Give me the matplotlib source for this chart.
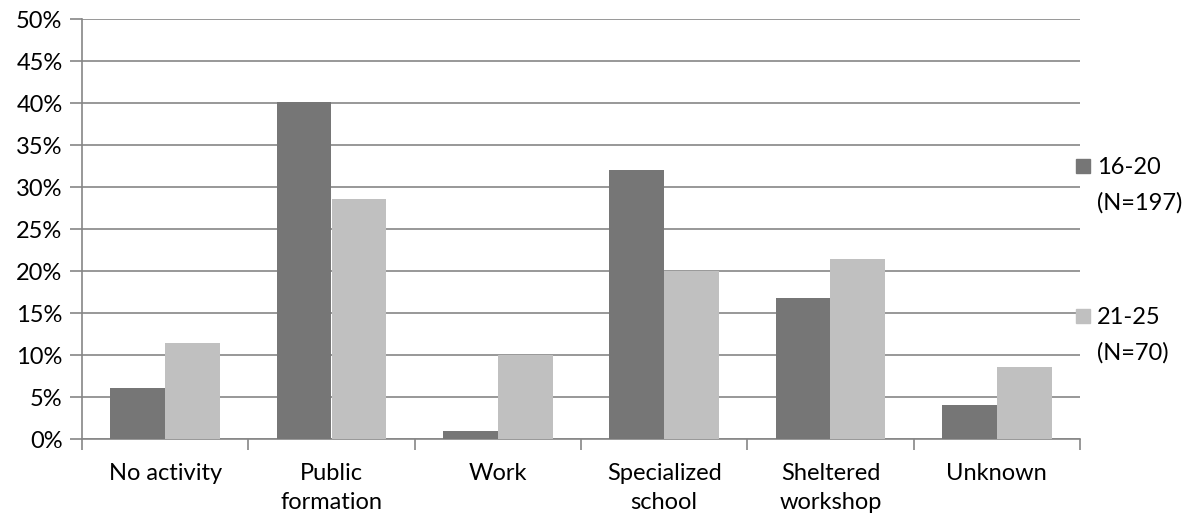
import matplotlib.pyplot as plt
import numpy as np
from matplotlib.patches import Rectangle
from matplotlib.ticker import PercentFormatter, FixedLocator

categories = ["No activity", "Public\nformation", "Work", "Specialized\nschool",
              "Sheltered\nworkshop", "Unknown"]
age_16_20 = [6.1, 40.1, 1.0, 32.0, 16.8, 4.1]
age_21_25 = [11.4, 28.6, 10.0, 20.0, 21.4, 8.6]
series_labels = [("16-20", "(N=197)"), ("21-25", "(N=70)")]

dark = "#767676"
light = "#c0c0c0"
grid = "#868686"

plt.rcParams['font.family'] = ['Lato', 'DejaVu Sans']

W, H = 1192, 521
fig = plt.figure(figsize=(W / 100, H / 100), dpi=100)
ax = fig.add_axes([82 / W, 1 - 439 / H, 998 / W, 420 / H])

x = np.arange(len(categories))
w = 0.33
ax.bar(x - w / 2, age_16_20, w, color=dark, zorder=3)
ax.bar(x + w / 2, age_21_25, w, color=light, zorder=3)

ax.set_xlim(-0.5, len(categories) - 0.5)
ax.set_ylim(0, 50)
ax.set_yticks(np.arange(0, 51, 5))
ax.yaxis.set_major_formatter(PercentFormatter(decimals=0))
ax.yaxis.grid(True, color=grid, linewidth=1.2, zorder=0)

ax.set_xticks(x)
ax.set_xticklabels(categories, linespacing=1.5)
ax.xaxis.set_minor_locator(FixedLocator(np.arange(-0.5, len(categories), 1)))
ax.tick_params(axis='x', which='major', length=0, pad=17, labelsize=17)
ax.tick_params(axis='x', which='minor', length=8, width=1.2, color=grid, direction='out')
ax.tick_params(axis='y', length=9, width=1.2, color=grid, pad=5, labelsize=17)

for s in ['top', 'right']:
    ax.spines[s].set_visible(False)
for s in ['left', 'bottom']:
    ax.spines[s].set_color(grid)
    ax.spines[s].set_linewidth(1.2)

# legend drawn by hand: square beside the first line of each label
for (first, second), color, ytop in zip(series_labels, [dark, light], [159, 309]):
    fig.patches.append(Rectangle((1076 / W, 1 - (ytop + 14) / H), 14 / W, 14 / H,
                                 transform=fig.transFigure, color=color))
    fig.text(1097 / W, 1 - (ytop + 8) / H, first, fontsize=17, va='center')
    fig.text(1097 / W, 1 - (ytop + 44) / H, second, fontsize=17, va='center')

fig.savefig("out.png", dpi=100)
